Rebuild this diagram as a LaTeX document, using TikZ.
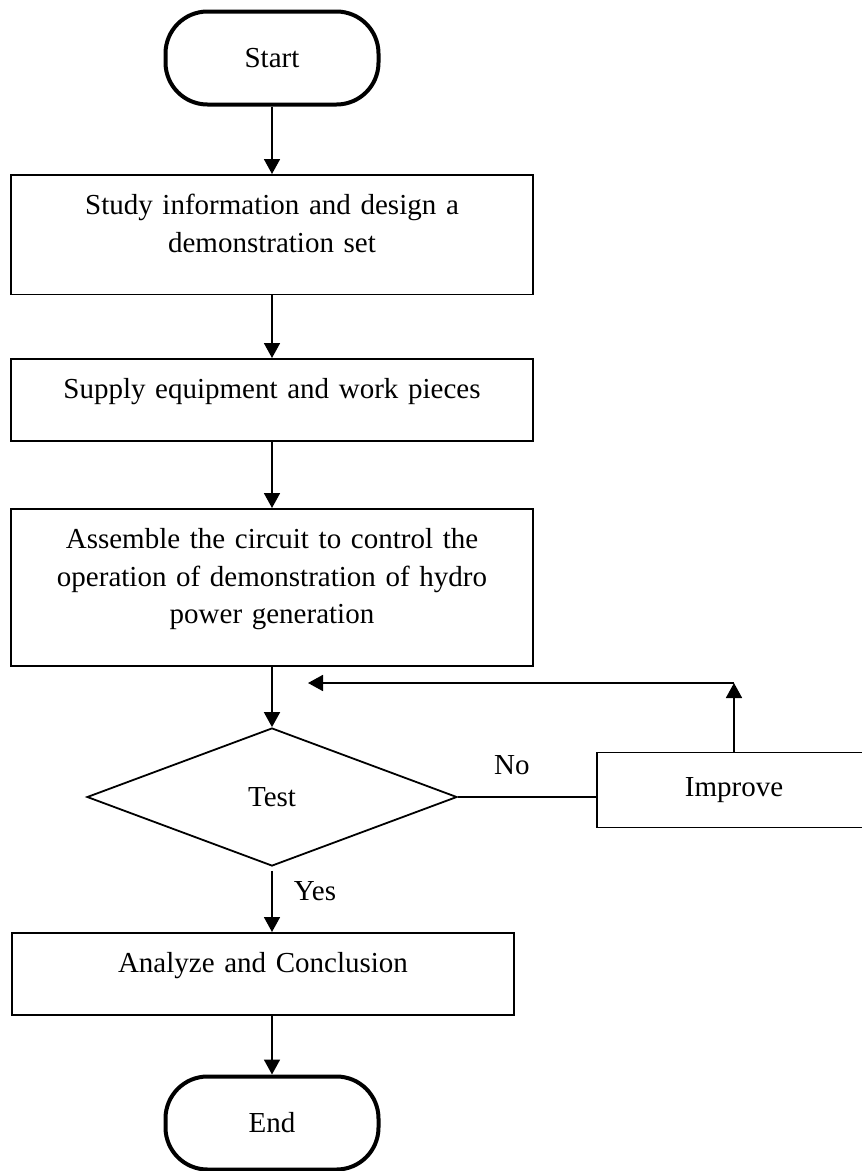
\documentclass[tikz,border=0pt]{standalone}
\usepackage{fontspec}
\setmainfont{Liberation Serif}
\usetikzlibrary{arrows.meta,shapes.geometric,calc}
\def\TopGap{\rule{0pt}{40pt}}
\def\BotGap{\rule[-42pt]{0pt}{42pt}}
\begin{document}
\begin{tikzpicture}[x=1pt, y=-1pt,
  every node/.style={font=\fontsize{29}{37.5}\selectfont},
  terminal/.style={draw, line width=4pt, rounded corners=42pt,
    minimum width=213pt, minimum height=93pt},
  process/.style={draw, line width=1.8pt, align=center, text width=500pt,
    inner xsep=11pt, inner ysep=0pt, anchor=north},
  decision/.style={draw, diamond, line width=1.8pt, minimum width=370pt,
    minimum height=138pt, inner sep=0pt},
  sidebox/.style={draw, line width=1.8pt, minimum width=274pt, minimum height=75pt},
  flow/.style={line width=1.8pt, -{Triangle[width=16pt,length=15pt]}},
  branch/.style={inner sep=0pt}]
\path[use as bounding box, clip] (0,0) rectangle (862,1171);
\node[terminal] (start) at (272,58) {Start};
\node[process] (study) at (272,174) {\TopGap Study information and design a\\demonstration set\BotGap};
\node[process] (supply) at (272,358) {\TopGap Supply equipment and work pieces\BotGap};
\node[process] (assemble) at (272,508) {\TopGap Assemble the circuit to control the\\operation of demonstration of hydro\\power generation\BotGap};
\node[decision] (test) at (272,797) {Test};
\node[sidebox] (improve) at (734,790) {Improve};
\node[process, text width=480pt] (conclusion) at (263,932) {\TopGap Analyze and Conclusion\BotGap};
\node[terminal] (end) at (272,1123) {End};
\coordinate (turn) at (improve.north |- 0,683);
\coordinate (back) at (308,683);
% main line
\draw[flow] (start) -- (study);
\draw[flow] (study) -- (supply);
\draw[flow] (supply) -- (assemble);
\draw[flow] (assemble) -- (test);
\draw[flow, shorten <=4pt] (test) -- (test |- conclusion.north)
  node[branch, pos=0.37, right=21pt] {Yes};
\draw[flow] (conclusion.south -| end) -- (end);
% loop back
\draw[line width=1.8pt] (test.east) -- (test.east -| improve.west)
  node[branch, pos=0.39, above=21pt] {No};
\draw[flow] (improve) -- (turn);
\draw[flow] (turn) -- (back);
\end{tikzpicture}
\end{document}
